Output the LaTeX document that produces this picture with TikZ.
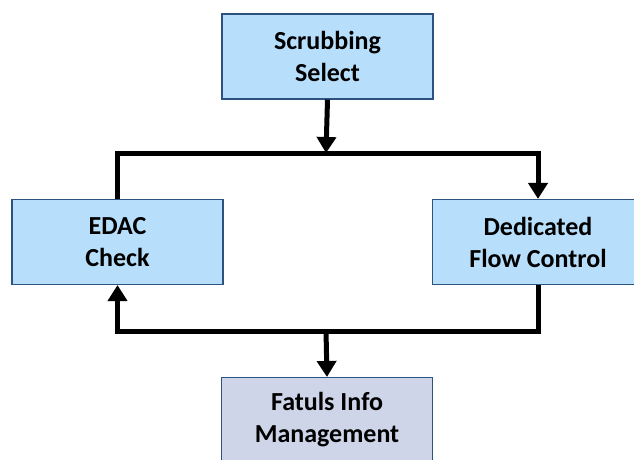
\documentclass[tikz,border=0pt]{standalone}
\usepackage{fontspec}
\setmainfont{Carlito}
\usetikzlibrary{arrows.meta}
\definecolor{boxblue}{RGB}{183,222,250}
\definecolor{boxlav}{RGB}{206,213,233}
\definecolor{boxedge}{RGB}{46,82,128}
\tikzset{
  x=1pt, y=1pt,
  stagebox/.style={draw=boxedge, line width=1.1pt, fill=boxblue,
    minimum width=211pt, minimum height=85pt, align=center,
    font=\fontsize{26}{32}\selectfont\bfseries, inner sep=0pt},
  flow/.style={line width=5pt, draw=black},
  tip/.style={-{Triangle[length=16pt,width=19pt]}}
}
\begin{document}
\begin{tikzpicture}
\useasboundingbox (0,0) rectangle (634,459);
\clip (0,0) rectangle (634,459);
\fill[white] (0,0) rectangle (634,459);

\node[stagebox] (scrub) at (327.5,402.5) {Scrubbing\\Select};
\node[stagebox] (edac) at (117.5,217) {EDAC\\Check};
\node[stagebox] (dfc) at (538,217) {Dedicated\\Flow Control};
\node[stagebox, fill=boxlav] (fim) at (327,39) {Fatuls Info\\Management};

\coordinate (split) at (326,306);
\coordinate (join) at (326,128);

% fan-out from the selector
\draw[flow, tip] (scrub.south) -- (split);
\draw[flow, tip] (edac.north) |- (split) -| (dfc.north);

% feedback and fan-in below
\draw[flow, tip] (dfc.south) |- (join) -| (edac.south);
\draw[flow, tip] (join) -- (fim.north);
\end{tikzpicture}
\end{document}
